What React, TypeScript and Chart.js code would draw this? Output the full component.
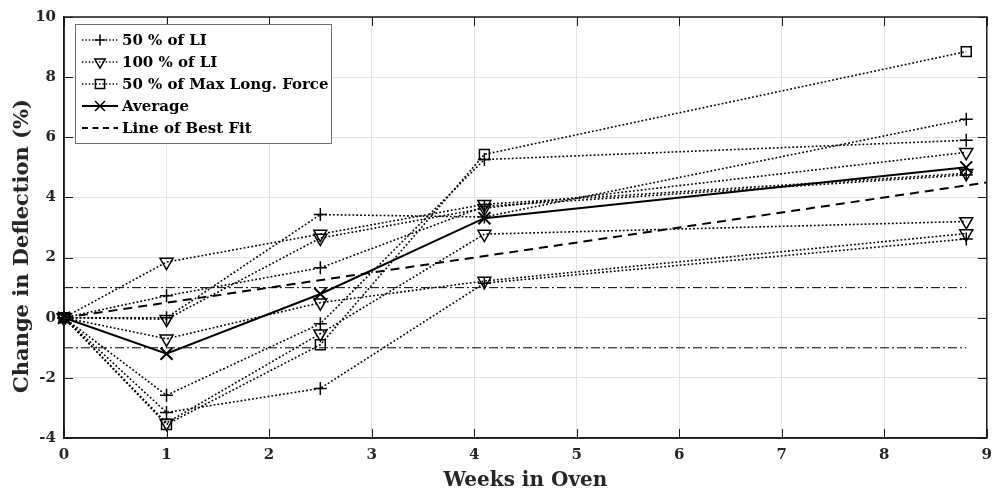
import React, { useEffect, useRef } from "react";
import { Chart, registerables } from "chart.js";

Chart.register(...registerables);

// ---- data ----
const weeks = [0, 1, 2.5, 4.1, 8.8];

// 50 % of LI (plus markers)
const li50A = [0, 0, 3.43, 3.35, 6.6];
const li50B = [0, 0.73, 1.66, 3.7, 4.75];
const li50C = [0, -2.58, -0.2, 5.26, 5.9];
const li50D = [0, -3.15, -2.35, 1.15, 2.62];

// 100 % of LI (down-triangle markers)
const li100A = [0, 1.85, 2.78, 3.77, 4.8];
const li100B = [0, -0.05, 2.65, 3.64, 5.5];
const li100C = [0, -0.7, 0.5, 1.22, 2.8];
const li100D = [0, -3.5, -0.53, 2.78, 3.2];

// 50 % of Max Long. Force (square markers)
const maxLong50 = [0, -3.55, -0.9, 5.43, 8.85];

// Average (x markers)
const average = [0, -1.2, 0.79, 3.31, 5.0];

// Line of best fit
const fitWeeks = [0, 9];
const fitValues = [0, 4.5];

// +/- 1 % limits
const limitWeeks = [0, 8.8];
const upperLimit = [1, 1];
const lowerLimit = [-1, -1];

const xTicks = [0, 1, 2, 3, 4, 5, 6, 7, 8, 9];
const yTicks = [-4, -2, 0, 2, 4, 6, 8, 10];

const legendLabels = [
  "50 % of LI",
  "100 % of LI",
  "50 % of Max Long. Force",
  "Average",
  "Line of Best Fit",
];
const yTitle = "Change in Deflection (%)";
const xTitle = "Weeks in Oven";

const FONT = "'DejaVu Serif', serif";
const TXT = "#262626";

const toXY = (xs: number[], ys: number[]) => xs.map((x, i) => ({ x, y: ys[i] }));

const dotted = [1.8, 2.1];

function markerSeries(label: string, ys: number[], style: string, radius: number) {
  return {
    label,
    data: toXY(weeks, ys),
    borderColor: "#000",
    borderWidth: 1.6,
    borderDash: dotted,
    pointStyle: style === "triangleDown" ? "triangle" : style,
    rotation: style === "triangleDown" ? 180 : 0,
    pointRadius: radius,
    pointBorderWidth: 1.5,
    pointBorderColor: "#000",
    pointBackgroundColor: "rgba(0,0,0,0)",
    fill: false,
    tension: 0,
    clip: false as any,
  };
}

function drawMarker(ctx: CanvasRenderingContext2D, style: string, x: number, y: number, r: number) {
  ctx.beginPath();
  if (style === "cross") {
    ctx.moveTo(x - r, y);
    ctx.lineTo(x + r, y);
    ctx.moveTo(x, y - r);
    ctx.lineTo(x, y + r);
  } else if (style === "triangleDown") {
    const s = Math.sin(Math.PI / 3) * r;
    ctx.moveTo(x, y + r);
    ctx.lineTo(x - s, y - r / 2);
    ctx.lineTo(x + s, y - r / 2);
    ctx.closePath();
  } else if (style === "rect") {
    const h = r * Math.SQRT1_2;
    ctx.rect(x - h, y - h, 2 * h, 2 * h);
  } else if (style === "crossRot") {
    const h = r * Math.SQRT1_2;
    ctx.moveTo(x - h, y - h);
    ctx.lineTo(x + h, y + h);
    ctx.moveTo(x - h, y + h);
    ctx.lineTo(x + h, y - h);
  }
  ctx.stroke();
}

const framePlugin = {
  id: "frame",
  afterDraw(chart: any) {
    const { ctx, chartArea, scales } = chart;
    const { left, right, top, bottom } = chartArea;
    const xs = scales.x;
    const ys = scales.y;
    ctx.save();
    ctx.setLineDash([]);
    ctx.strokeStyle = "#1a1a1a";
    // inward ticks
    ctx.lineWidth = 1;
    const tl = 9;
    ctx.beginPath();
    xTicks.forEach((v) => {
      const px = Math.round(xs.getPixelForValue(v)) + 0.5;
      ctx.moveTo(px, bottom);
      ctx.lineTo(px, bottom - tl);
      ctx.moveTo(px, top);
      ctx.lineTo(px, top + tl);
    });
    yTicks.forEach((v) => {
      const py = Math.round(ys.getPixelForValue(v)) + 0.5;
      ctx.moveTo(left, py);
      ctx.lineTo(left + tl, py);
      ctx.moveTo(right, py);
      ctx.lineTo(right - tl, py);
    });
    ctx.stroke();
    // box
    ctx.lineWidth = 1.5;
    ctx.strokeRect(left, top, right - left, bottom - top);

    // y axis title
    ctx.save();
    ctx.translate(23, 246);
    ctx.rotate(-Math.PI / 2);
    ctx.font = `bold 21px ${FONT}`;
    ctx.fillStyle = TXT;
    ctx.textAlign = "center";
    ctx.textBaseline = "middle";
    ctx.fillText(yTitle, 0, 0);
    ctx.restore();

    // legend
    const lx = 75, ly = 24, lw = 256, lh = 119;
    ctx.fillStyle = "#fff";
    ctx.fillRect(lx, ly, lw, lh);
    ctx.lineWidth = 1;
    ctx.strokeStyle = "#6e6e6e";
    ctx.strokeRect(lx + 0.5, ly + 0.5, lw, lh);

    const styles = ["cross", "triangleDown", "rect", "crossRot", "none"];
    const radii = [5.5, 6, 6.5, 7, 0];
    const rowY = [40, 62, 84, 106, 128];
    ctx.font = `bold 15px ${FONT}`;
    ctx.textBaseline = "middle";
    ctx.textAlign = "left";
    legendLabels.forEach((label, i) => {
      const cy = rowY[i];
      ctx.strokeStyle = "#000";
      if (i < 3) {
        ctx.lineWidth = 1.4;
        ctx.setLineDash([1.4, 2]);
      } else if (i === 3) {
        ctx.lineWidth = 2;
        ctx.setLineDash([]);
      } else {
        ctx.lineWidth = 2;
        ctx.setLineDash([6, 4.5]);
      }
      ctx.beginPath();
      ctx.moveTo(82, cy);
      ctx.lineTo(118, cy);
      ctx.stroke();
      ctx.setLineDash([]);
      ctx.lineWidth = 1.5;
      if (styles[i] !== "none") drawMarker(ctx, styles[i], 100, cy, radii[i]);
      ctx.fillStyle = "#000";
      ctx.fillText(label, 122, cy + 1);
    });
    ctx.restore();
  },
};

export default function App() {
  const ref = useRef<HTMLCanvasElement | null>(null);

  useEffect(() => {
    if (!ref.current) return;
    const datasets: any[] = [
      {
        label: "Upper limit",
        data: toXY(limitWeeks, upperLimit),
        borderColor: "#000",
        borderWidth: 1,
        borderDash: [9, 3, 2, 3],
        pointRadius: 0,
        fill: false,
      },
      {
        label: "Lower limit",
        data: toXY(limitWeeks, lowerLimit),
        borderColor: "#000",
        borderWidth: 1,
        borderDash: [9, 3, 2, 3],
        pointRadius: 0,
        fill: false,
      },
      markerSeries("50 % of LI", li50A, "cross", 6.5),
      markerSeries("50 % of LI", li50B, "cross", 6.5),
      markerSeries("50 % of LI", li50C, "cross", 6.5),
      markerSeries("50 % of LI", li50D, "cross", 6.5),
      markerSeries("100 % of LI", li100A, "triangleDown", 7.5),
      markerSeries("100 % of LI", li100B, "triangleDown", 7.5),
      markerSeries("100 % of LI", li100C, "triangleDown", 7.5),
      markerSeries("100 % of LI", li100D, "triangleDown", 7.5),
      markerSeries("50 % of Max Long. Force", maxLong50, "rect", 7),
      {
        label: "Average",
        data: toXY(weeks, average),
        borderColor: "#000",
        borderWidth: 2,
        pointStyle: "crossRot",
        pointRadius: 8.5,
        pointBorderWidth: 2,
        pointBorderColor: "#000",
        fill: false,
        clip: false,
      },
      {
        label: "Line of Best Fit",
        data: toXY(fitWeeks, fitValues),
        borderColor: "#000",
        borderWidth: 2,
        borderDash: [9, 6],
        pointRadius: 0,
        fill: false,
      },
    ];

    const chart = new Chart(ref.current, {
      type: "line",
      data: { datasets },
      options: {
        responsive: false,
        animation: false,
        devicePixelRatio: 1,
        layout: { padding: { left: 0, right: 6, top: 15, bottom: 0 } },
        plugins: {
          legend: { display: false },
          tooltip: { enabled: false },
        },
        scales: {
          x: {
            type: "linear",
            min: 0,
            max: 9,
            afterFit: (s: any) => {
              s.height = 57;
            },
            afterBuildTicks: (s: any) => {
              s.ticks = xTicks.map((v) => ({ value: v }));
            },
            grid: { color: "#e3e3e3", lineWidth: 1, drawTicks: false },
            border: { display: true, color: "#1a1a1a", width: 1.5 },
            ticks: {
              padding: 8,
              color: TXT,
              font: { family: FONT, size: 15, weight: "bold" },
            },
            title: {
              display: true,
              text: xTitle,
              color: TXT,
              padding: { top: 0, bottom: 2 },
              font: { family: FONT, size: 20, weight: "bold" },
            },
          },
          y: {
            type: "linear",
            min: -4,
            max: 10,
            afterFit: (s: any) => {
              s.width = 64;
            },
            afterBuildTicks: (s: any) => {
              s.ticks = yTicks.map((v) => ({ value: v }));
            },
            grid: { color: "#e3e3e3", lineWidth: 1, drawTicks: false },
            border: { display: true, color: "#1a1a1a", width: 1.5 },
            ticks: {
              padding: 8,
              color: TXT,
              font: { family: FONT, size: 15, weight: "bold" },
            },
            title: { display: false },
          },
        },
      } as any,
      plugins: [framePlugin],
    });
    return () => chart.destroy();
  }, []);

  return (
    <div style={{ position: "fixed", left: 0, top: 0, width: 1000, height: 495, background: "#fff" }}>
      <canvas ref={ref} width={1000} height={495} style={{ display: "block" }} />
    </div>
  );
}
